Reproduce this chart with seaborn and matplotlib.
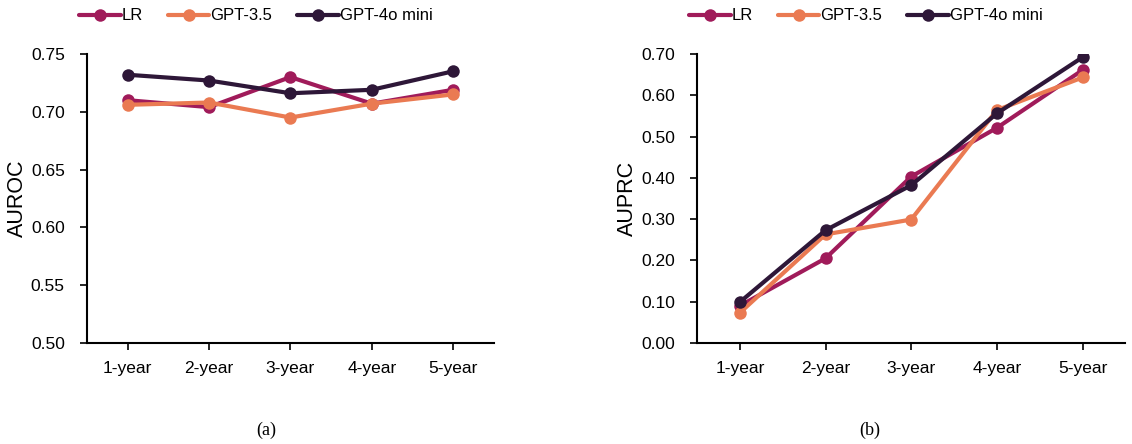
import matplotlib
matplotlib.use('Agg')
import matplotlib.pyplot as plt
import seaborn as sns
import pandas as pd

years = ["1-year", "2-year", "3-year", "4-year", "5-year"]
models = ["LR", "GPT-3.5", "GPT-4o mini"]
colors = ["#a01b5a", "#ea7a52", "#2e1738"]

auroc_lr = [0.710, 0.704, 0.730, 0.707, 0.719]
auroc_gpt35 = [0.706, 0.708, 0.695, 0.707, 0.715]
auroc_gpt4o = [0.732, 0.727, 0.716, 0.719, 0.735]

auprc_lr = [0.090, 0.205, 0.403, 0.521, 0.661]
auprc_gpt35 = [0.073, 0.263, 0.299, 0.564, 0.643]
auprc_gpt4o = [0.099, 0.273, 0.382, 0.556, 0.692]


def to_long(series):
    rows = []
    for name, vals in zip(models, series):
        for yr, v in zip(years, vals):
            rows.append({"year": yr, "model": name, "value": v})
    return pd.DataFrame(rows)


sns.set_style("ticks", {"text.color": "black", "axes.labelcolor": "black",
                        "xtick.color": "black", "ytick.color": "black"})
plt.rcParams['font.family'] = ['Liberation Sans', 'DejaVu Sans']

fig = plt.figure(figsize=(11.32, 4.44), dpi=100)
ax1 = fig.add_axes([0.0769, 0.2275, 0.3593, 0.651])
ax2 = fig.add_axes([0.6157, 0.2275, 0.3785, 0.651])

panels = [
    (ax1, [auroc_lr, auroc_gpt35, auroc_gpt4o], "AUROC", (0.50, 0.75), [0.50, 0.55, 0.60, 0.65, 0.70, 0.75], 79 / 1132),
    (ax2, [auprc_lr, auprc_gpt35, auprc_gpt4o], "AUPRC", (0.0, 0.70), [0.0, 0.1, 0.2, 0.3, 0.4, 0.5, 0.6, 0.7], 689 / 1132),
]

for ax, series, label, ylim, yticks, legx in panels:
    df = to_long(series)
    sns.lineplot(data=df, x="year", y="value", hue="model", palette=colors,
                 marker="o", markersize=9, markeredgewidth=0, linewidth=3,
                 ax=ax, sort=False)
    ax.set_xlim(-0.5, 4.5)
    ax.set_ylim(*ylim)
    ax.set_yticks(yticks)
    ax.set_yticklabels([f"{t:.2f}" for t in yticks])
    ax.set_xlabel("")
    ax.set_ylabel(label, fontsize=15.5, labelpad=2)
    ax.tick_params(labelsize=12.5, width=1.2, length=5, color="black", labelcolor="black")
    ax.tick_params(axis="y", pad=11)
    ax.tick_params(axis="x", pad=8)
    for s in ["left", "bottom"]:
        ax.spines[s].set_linewidth(1.5)
        ax.spines[s].set_color("black")
    sns.despine(ax=ax)
    handles, labels_ = ax.get_legend_handles_labels()
    ax.legend(handles, labels_, loc="center left", bbox_to_anchor=(legx, 1 - 16 / 444),
              bbox_transform=fig.transFigure, ncol=3, frameon=False,
              fontsize=12, handlelength=2.5, handletextpad=0.05, columnspacing=1.5,
              borderaxespad=0, borderpad=0)

fig.text(266 / 1132, 1 - 430 / 444, "(a)", ha="center", va="center",
         fontsize=13, family=["Liberation Serif"])
fig.text(870 / 1132, 1 - 430 / 444, "(b)", ha="center", va="center",
         fontsize=13, family=["Liberation Serif"])

fig.savefig("out.png", dpi=100)
plt.close(fig)
